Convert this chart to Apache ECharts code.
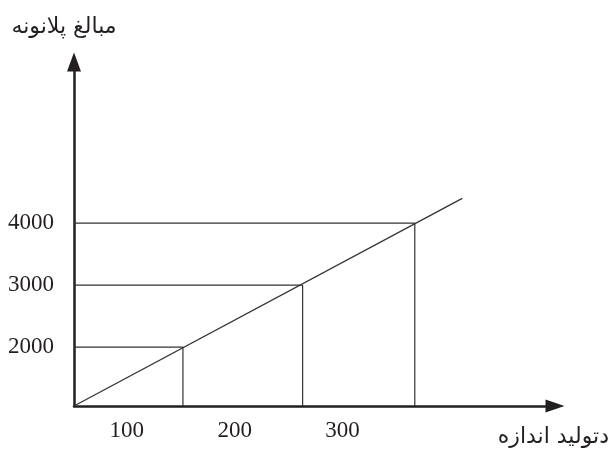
<!DOCTYPE html>
<html>
<head>
<meta charset="utf-8">
<script src="https://cdn.jsdelivr.net/npm/echarts@6/dist/echarts.min.js"></script>
<style>
    html, body { margin: 0; padding: 0; background: #fff; }
    #chart { width: 612px; height: 454px; }
</style>
</head>
<body>
<div id="chart"></div>
<script>
const xTickLabels = [100, 200, 300];
const yTickLabels = [2000, 3000, 4000];

// points where the guide lines meet the cost line
const pointX = [152, 263, 367];
const pointY = [2000, 3000, 4000];

// the cost line itself, from the origin to where it stops
const costLine = [[51, 1050], [411, 4400]];

const X_MIN = 51;
const X_MAX = 497;
const Y_MIN = 1050;
const Y_MAX = 6600;

const INK = '#231f20';
const NUM_FONT = 'Liberation Serif';
const FA_FONT = 'DejaVu Sans';

function buildGuideSeries() {
    return pointX.map((x, i) => ({
        type: 'line',
        data: [[X_MIN, pointY[i]], [x, pointY[i]], [x, Y_MIN]],
        symbol: 'none',
        silent: true,
        lineStyle: { color: '#333', width: 1.2 },
        z: 2
    }));
}

function buildChartOptions() {
    return {
        backgroundColor: '#fff',
        animation: false,
        grid: { left: 74, right: 56, top: 62, bottom: 48 },
        xAxis: {
            type: 'value',
            min: X_MIN,
            max: X_MAX,
            name: 'دتولید اندازه',
            nameLocation: 'end',
            nameGap: 54,
            nameTextStyle: {
                fontFamily: FA_FONT,
                fontSize: 22,
                color: INK,
                align: 'right',
                verticalAlign: 'top',
                padding: [20, 0, 0, 0]
            },
            axisLine: {
                onZero: false,
                symbol: ['none', 'triangle'],
                symbolSize: [13, 19],
                lineStyle: { color: INK, width: 2.5 }
            },
            axisTick: { show: false },
            splitLine: { show: false },
            axisLabel: {
                customValues: xTickLabels,
                formatter: (v) => String(v),
                margin: 13,
                fontFamily: NUM_FONT,
                fontSize: 23,
                color: INK
            }
        },
        yAxis: {
            type: 'value',
            min: Y_MIN,
            max: Y_MAX,
            name: 'مبالغ پلانونه',
            nameLocation: 'end',
            nameGap: 24,
            nameTextStyle: {
                fontFamily: FA_FONT,
                fontSize: 22,
                color: INK,
                padding: [0, 20, 0, 0]
            },
            axisLine: {
                onZero: false,
                symbol: ['none', 'triangle'],
                symbolSize: [14, 19],
                lineStyle: { color: INK, width: 2.5 }
            },
            axisTick: { show: false },
            splitLine: { show: false },
            axisLabel: {
                customValues: yTickLabels,
                formatter: (v) => String(v),
                margin: 20,
                fontFamily: NUM_FONT,
                fontSize: 23,
                color: INK
            }
        },
        series: [
            {
                type: 'line',
                data: costLine,
                symbol: 'none',
                silent: true,
                lineStyle: { color: '#333', width: 1.3 },
                z: 3
            },
            ...buildGuideSeries()
        ]
    };
}

const chart = echarts.init(document.getElementById('chart'));
chart.setOption(buildChartOptions());
</script>
</body>
</html>
